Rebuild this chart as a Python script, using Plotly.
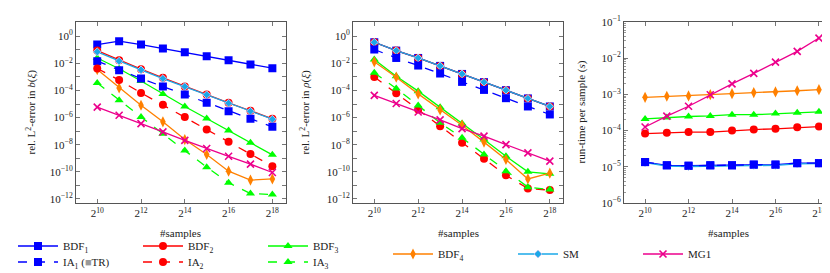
import math
import plotly.graph_objects as go

# ---------------- data ----------------
samples = [2**k for k in range(10, 19)]

# panel 1: rel. L2-error in b(xi)
bdf1_b = [2.45e-1, 4.3e-1, 2.45e-1, 1.23e-1, 6.6e-2, 3.4e-2, 1.7e-2, 8.1e-3, 4.4e-3]
bdf2_b = [8.7e-2, 1.7e-2, 3.7e-3, 8.5e-4, 2.0e-4, 5.0e-5, 1.23e-5, 3.2e-6, 8.1e-7]
bdf3_b = [2.5e-2, 4.0e-3, 5.0e-4, 5.6e-5, 6.6e-6, 8.5e-7, 1.12e-7, 1.38e-8, 1.78e-9]
bdf4_b = [3.5e-3, 1.55e-4, 8.1e-6, 4.9e-7, 2.4e-8, 1.9e-9, 1.12e-10, 2.45e-11, 3.0e-11]
ia1_b = [1.45e-2, 3.1e-3, 7.6e-4, 1.95e-4, 5.0e-5, 1.23e-5, 2.95e-6, 8.1e-7, 2.1e-7]
ia2_b = [4.2e-3, 5.8e-4, 6.6e-5, 8.7e-6, 1.12e-6, 1.32e-7, 1.62e-8, 2.1e-9, 2.6e-10]
ia3_b = [3.6e-4, 1.9e-5, 1.12e-6, 6.3e-8, 3.7e-9, 2.2e-10, 1.55e-11, 2.5e-12, 2.1e-12]
sm_b = [7.1e-2, 1.45e-2, 3.3e-3, 7.6e-4, 1.95e-4, 4.8e-5, 1.15e-5, 2.95e-6, 7.6e-7]
mg1_b = [5.9e-6, 1.5e-6, 3.6e-7, 8.9e-8, 2.1e-8, 5.2e-9, 1.4e-9, 3.7e-10, 8.9e-11]

# panel 2: rel. L2-error in rho(xi)
bdf1_r = [3.6e-1, 8.7e-2, 2.5e-2, 6.5e-3, 1.66e-3, 4.1e-4, 1.05e-4, 2.6e-5, 6.6e-6]
bdf2_r = [3.6e-1, 8.7e-2, 2.5e-2, 6.5e-3, 1.66e-3, 4.1e-4, 1.05e-4, 2.6e-5, 6.6e-6]
bdf3_r = [1.9e-2, 1.12e-3, 8.9e-5, 5.9e-6, 3.6e-7, 2.4e-8, 1.4e-9, 1.0e-10, 7.1e-11]
bdf4_r = [1.3e-2, 9.5e-4, 5.6e-5, 3.7e-6, 2.75e-7, 1.55e-8, 8.1e-10, 3.0e-11, 7.9e-11]
ia1_r = [1.05e-1, 2.5e-2, 6.9e-3, 1.78e-3, 4.3e-4, 1.1e-4, 2.7e-5, 6.6e-6, 1.7e-6]
ia2_r = [1.0e-3, 6.3e-5, 4.0e-6, 2.3e-7, 1.38e-8, 9.1e-10, 5.6e-11, 5.8e-12, 4.5e-12]
ia3_r = [2.0e-3, 1.38e-4, 7.8e-6, 4.1e-7, 3.2e-8, 1.9e-9, 1.12e-10, 7.4e-12, 5.0e-12]
sm_r = [3.6e-1, 8.7e-2, 2.5e-2, 6.5e-3, 1.66e-3, 4.1e-4, 1.05e-4, 2.6e-5, 6.6e-6]
mg1_r = [4.3e-5, 1.1e-5, 2.6e-6, 6.8e-7, 1.55e-7, 4.3e-8, 1.02e-8, 2.5e-9, 6.2e-10]

# panel 3: run-time per sample (s)
bdf1_t = [1.35e-5, 1.1e-5, 1.07e-5, 1.1e-5, 1.1e-5, 1.15e-5, 1.15e-5, 1.26e-5, 1.26e-5]
bdf2_t = [8.3e-5, 8.7e-5, 9.1e-5, 9.1e-5, 1.0e-4, 1.07e-4, 1.12e-4, 1.23e-4, 1.29e-4]
bdf3_t = [2.1e-4, 2.3e-4, 2.45e-4, 2.55e-4, 2.75e-4, 2.75e-4, 2.95e-4, 3.1e-4, 3.3e-4]
bdf4_t = [8.3e-4, 8.9e-4, 9.1e-4, 9.8e-4, 1.05e-3, 1.12e-3, 1.17e-3, 1.26e-3, 1.35e-3]
ia1_t = [1.35e-5, 1.1e-5, 1.07e-5, 1.1e-5, 1.1e-5, 1.15e-5, 1.15e-5, 1.26e-5, 1.26e-5]
sm_t = [1.3e-5, 1.05e-5, 1.02e-5, 1.05e-5, 1.05e-5, 1.1e-5, 1.1e-5, 1.2e-5, 1.22e-5]
mg1_t = [1.26e-4, 2.5e-4, 4.7e-4, 9.8e-4, 1.95e-3, 3.8e-3, 7.8e-3, 1.55e-2, 3.6e-2]

x_tick_vals = [2**10, 2**12, 2**14, 2**16, 2**18]
x_tick_text = ["2<sup>10</sup>", "2<sup>12</sup>", "2<sup>14</sup>", "2<sup>16</sup>", "2<sup>18</sup>"]
err_tick_exp = [0, -2, -4, -6, -8, -10, -12]
time_tick_exp = [-1, -2, -3, -4, -5, -6]

# ---------------- styles ----------------
BLUE = "#0000FF"
RED = "#FF0000"
GREEN = "#00FF00"
ORANGE = "#FF8000"
CYAN = "#1AA8E8"
MAGENTA = "#EC008C"
FONT = "Liberation Serif"

series_style = {
    "BDF1": dict(name="BDF<sub>1</sub>", color=BLUE, symbol="square", size=8, dash="solid", legend="legend"),
    "BDF2": dict(name="BDF<sub>2</sub>", color=RED, symbol="circle", size=8, dash="solid", legend="legend"),
    "BDF3": dict(name="BDF<sub>3</sub>", color=GREEN, symbol="triangle-up", size=8, dash="solid", legend="legend"),
    "BDF4": dict(name="BDF<sub>4</sub>", color=ORANGE, symbol="diamond-tall", size=8, dash="solid", legend="legend3"),
    "SM": dict(name="SM", color=CYAN, symbol="diamond", size=6, dash="solid", legend="legend3"),
    "IA1": dict(name="IA<sub>1</sub> (<span style='color:#999999'>■</span>TR)", color=BLUE, symbol="square", size=8, dash="dash", legend="legend2"),
    "IA2": dict(name="IA<sub>2</sub>", color=RED, symbol="circle", size=8, dash="dash", legend="legend2"),
    "IA3": dict(name="IA<sub>3</sub>", color=GREEN, symbol="triangle-up", size=8, dash="dash", legend="legend2"),
    "MG1": dict(name="MG1", color=MAGENTA, symbol="x-thin", size=7, dash="solid", legend="legend3"),
}

panels = [
    ("x", "y", {"BDF1": bdf1_b, "BDF2": bdf2_b, "BDF3": bdf3_b, "BDF4": bdf4_b, "SM": sm_b,
                "IA1": ia1_b, "IA2": ia2_b, "IA3": ia3_b, "MG1": mg1_b}),
    ("x2", "y2", {"BDF1": bdf1_r, "BDF2": bdf2_r, "BDF3": bdf3_r, "BDF4": bdf4_r, "SM": sm_r,
                  "IA1": ia1_r, "IA2": ia2_r, "IA3": ia3_r, "MG1": mg1_r}),
    ("x3", "y3", {"BDF1": bdf1_t, "BDF2": bdf2_t, "BDF3": bdf3_t, "BDF4": bdf4_t, "SM": sm_t,
                  "IA1": ia1_t, "MG1": mg1_t}),
]

fig = go.Figure()
for pi, (xa, ya, data) in enumerate(panels):
    for key, vals in data.items():
        st = series_style[key]
        if st["symbol"] == "x-thin":
            marker = dict(symbol="x-thin", size=st["size"], line=dict(color=st["color"], width=1.6))
        elif key == "SM":
            marker = dict(symbol=st["symbol"], size=st["size"], color=st["color"],
                          line=dict(color="#B9C4F2", width=1))
        else:
            marker = dict(symbol=st["symbol"], size=st["size"], color=st["color"], line=dict(width=0))
        fig.add_trace(go.Scatter(
            x=samples, y=vals, xaxis=xa, yaxis=ya, mode="lines+markers",
            name=st["name"], legend=st["legend"], showlegend=(pi == 0),
            line=dict(color=st["color"], width=1.3, dash=st["dash"]),
            marker=marker,
        ))

W, H = 830, 273

def px(x):
    return x / W

def py(y):
    return 1 - y / H

xr = [9.03 * math.log10(2), 18.6 * math.log10(2)]
xdoms = [[px(68), px(277.5)], [px(345), px(555)], [px(616), px(824)]]
ydom = [py(195), py(14)]

def sup(e):
    return "10<sup>" + ("−" + str(-e) if e < 0 else str(e)) + "</sup>"

axis_common = dict(
    type="log", showline=True, linecolor="#555555", linewidth=1, mirror="allticks",
    ticks="inside", ticklen=4, tickcolor="#777777", showgrid=False, zeroline=False,
    tickfont=dict(family=FONT, size=11, color="#222222"), ticklabeloverflow="allow",
)

layout = dict(
    width=W, height=H, margin=dict(l=0, r=0, t=0, b=0, autoexpand=False),
    paper_bgcolor="white", plot_bgcolor="white",
    font=dict(family=FONT, size=11, color="#222222"),
)
ytitles = ["rel. L<sup>2</sup>-error in <i>b</i>(<i>ξ</i>)",
           "rel. L<sup>2</sup>-error in <i>ρ</i>(<i>ξ</i>)",
           "run-time per sample (<i>s</i>)"]
ytitle_x = [px(23), px(297), px(573)]
annotations = []
for i in range(3):
    sfx = "" if i == 0 else str(i + 1)
    layout["xaxis" + sfx] = dict(
        axis_common, domain=xdoms[i], range=xr, anchor="y" + sfx,
        tickvals=x_tick_vals, ticktext=x_tick_text,
    )
    if i < 2:
        yr = [-12.3, 1.05]
        tv = [10.0**e for e in err_tick_exp]
        tt = [sup(e) for e in err_tick_exp]
        minor = dict(tickvals=[10.0**e for e in range(-11, 1, 2)], ticks="inside", ticklen=4, tickcolor="#777777")
    else:
        yr = [-6, -1]
        tv = [10.0**e for e in time_tick_exp]
        tt = [sup(e) for e in time_tick_exp]
        mv = [m * 10.0**e for e in range(-6, -1) for m in range(2, 10)]
        minor = dict(tickvals=mv, ticks="inside", ticklen=2, tickcolor="#999999")
    layout["yaxis" + sfx] = dict(
        axis_common, domain=ydom, range=yr, anchor="x" + sfx,
        tickvals=tv, ticktext=tt, minor=minor,
    )
    annotations.append(dict(
        text=ytitles[i], xref="paper", yref="paper", x=ytitle_x[i], y=sum(ydom) / 2,
        xanchor="center", yanchor="middle", textangle=-90, showarrow=False,
        font=dict(family=FONT, size=11, color="#222222"),
    ))
    annotations.append(dict(
        text="#samples", xref="paper", yref="paper", x=sum(xdoms[i]) / 2, y=py(225),
        xanchor="center", yanchor="middle", showarrow=False,
        font=dict(family=FONT, size=11, color="#222222"),
    ))
layout["annotations"] = annotations

leg_common = dict(orientation="h", yanchor="middle", xanchor="left", bgcolor="rgba(0,0,0,0)",
                  font=dict(family=FONT, size=11), itemwidth=40, entrywidth=70,
                  entrywidthmode="pixels", x=5 / W)
layout["legend"] = dict(leg_common, y=1 - 238 / H)
layout["legend2"] = dict(leg_common, y=1 - 254 / H)
layout["legend3"] = dict(leg_common, x=380 / W, y=1 - 246 / H)

fig.update_layout(**layout)
fig.write_html("out.html")
